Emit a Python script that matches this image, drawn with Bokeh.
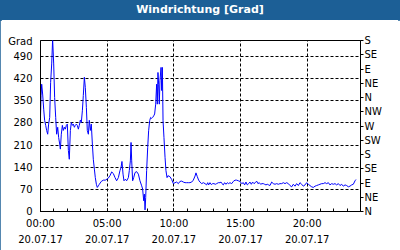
from bokeh.plotting import figure
from bokeh.models import FixedTicker, LinearAxis, Range1d, Div
from bokeh.layouts import column
from bokeh.embed import file_html
from bokeh.resources import INLINE

title_text = "Windrichtung [Grad]"
unit_label = "Grad"

hours = [0.00, 0.04, 0.09, 0.16, 0.24, 0.31, 0.39, 0.46, 0.54, 0.61, 0.69, 0.76, 0.84, 0.91, 0.99,
         1.06, 1.14, 1.21, 1.29, 1.36, 1.44, 1.49, 1.56, 1.64, 1.71, 1.79, 1.86, 1.94, 2.01, 2.09,
         2.16, 2.24, 2.31, 2.39, 2.46, 2.54, 2.61, 2.69, 2.76, 2.84, 2.91, 2.99, 3.06, 3.14, 3.21,
         3.29, 3.36, 3.44, 3.51, 3.59, 3.66, 3.74, 3.81, 3.89, 3.96, 4.04, 4.11, 4.19, 4.26, 4.34,
         4.41, 4.56, 4.71, 4.86, 5.01, 5.06, 5.21, 5.34, 5.46, 5.59, 5.71, 5.84, 5.96, 6.04, 6.11,
         6.19, 6.26, 6.36, 6.46, 6.59, 6.66, 6.74, 6.79, 6.84, 6.91, 6.99, 7.09, 7.21, 7.34, 7.46,
         7.59, 7.66, 7.74, 7.79, 7.84, 7.89, 7.96, 8.04, 8.11, 8.19, 8.26, 8.34, 8.41, 8.49, 8.56,
         8.64, 8.71, 8.76, 8.81, 8.86, 8.91, 8.96, 9.04, 9.09, 9.14, 9.19, 9.26, 9.34, 9.41, 9.49,
         9.56, 9.71, 9.84, 9.96, 10.09, 10.21, 10.34, 10.46, 10.59, 10.71, 10.84, 10.96, 11.09, 11.21,
         11.34, 11.46, 11.59, 11.66, 11.76, 11.86, 11.96, 12.09, 12.21, 12.34, 12.46, 12.54, 12.61,
         12.71, 12.81, 12.91, 13.01, 13.11, 13.21, 13.34, 13.46, 13.54, 13.61, 13.71, 13.81, 13.91,
         14.01, 14.11, 14.21, 14.34, 14.46, 14.59, 14.71, 14.84, 14.96, 15.09, 15.21, 15.31, 15.41,
         15.51, 15.61, 15.71, 15.81, 15.91, 16.01, 16.11, 16.21, 16.31, 16.41, 16.51, 16.61, 16.71,
         16.81, 16.91, 17.01, 17.11, 17.21, 17.34, 17.46, 17.59, 17.71, 17.84, 17.96, 18.09, 18.21,
         18.34, 18.46, 18.59, 18.71, 18.84, 18.96, 19.09, 19.21, 19.34, 19.46, 19.59, 19.71, 19.84,
         19.96, 20.09, 20.21, 20.34, 20.46, 20.59, 20.71, 20.84, 20.96, 21.09, 21.21, 21.34, 21.46,
         21.59, 21.71, 21.84, 21.96, 22.09, 22.21, 22.34, 22.46, 22.59, 22.71, 22.84, 22.96, 23.09,
         23.21, 23.34, 23.46, 23.59, 23.66]

direction = [300, 366, 402, 371, 323, 288, 272, 256, 244, 276, 297, 408, 466, 545, 466,
             360, 297, 244, 266, 234, 213, 197, 244, 272, 256, 266, 260, 272, 276, 193,
             165, 256, 281, 272, 276, 266, 272, 276, 272, 260, 272, 289, 281, 318, 366,
             424, 392, 329, 256, 244, 288, 256, 276, 213, 165, 134, 107, 86, 76, 81,
             86, 95, 99, 99, 103, 104, 113, 125, 120, 107, 97, 107, 129, 139, 158,
             118, 97, 102, 97, 107, 129, 160, 218, 160, 97, 107, 123, 126, 118, 97,
             81, 71, 34, 55, 5, 44, 129, 202, 255, 287, 297, 294, 297, 302, 308,
             339, 402, 339, 439, 402, 339, 413, 455, 382, 455, 287, 234, 171, 129, 107,
             113, 110, 101, 88, 91, 93, 88, 95, 96, 93, 91, 91, 91, 91,
             93, 99, 112, 122, 110, 99, 93, 88, 91, 88, 84, 91, 84,
             91, 85, 88, 88, 86, 88, 91, 91, 93, 88, 84, 91, 86,
             91, 88, 91, 88, 95, 99, 99, 97, 95, 88, 91, 84, 93,
             84, 88, 93, 86, 93, 88, 91, 96, 88, 91, 86, 88, 88,
             86, 84, 86, 84, 82, 93, 88, 86, 88, 86, 88, 88, 91,
             88, 91, 88, 82, 78, 86, 80, 88, 82, 91, 86, 80, 84,
             91, 86, 82, 78, 76, 80, 82, 84, 86, 88, 88, 91, 88,
             91, 84, 88, 86, 88, 84, 88, 82, 86, 80, 84, 82, 78,
             80, 84, 86, 97, 101]

left_ticks = [0, 70, 140, 210, 280, 350, 420, 490]
unit_tick = 537
right_ticks = [0, 45, 90, 135, 180, 225, 270, 315, 360, 405, 450, 495, 540]
right_labels = ["N", "NE", "E", "SE", "S", "SW", "W", "NW", "N", "NE", "E", "SE", "S"]
x_ticks = [0, 5, 10, 15, 20]
x_labels = ["00:00\n20.07.17", "05:00\n20.07.17", "10:00\n20.07.17",
            "15:00\n20.07.17", "20:00\n20.07.17"]

FONT = "DejaVu Sans"
BLUE = "#1c5f96"

p = figure(width=400, height=230, output_backend="svg", toolbar_location=None,
           x_range=Range1d(0, 24), y_range=Range1d(0, 540),
           min_border_left=40, min_border_right=40, min_border_top=20, min_border_bottom=39,
           margin=0)
p.border_fill_color = "white"
p.background_fill_color = "white"
p.outline_line_color = "black"
p.outline_line_alpha = 1

p.line(hours, direction, line_color="#0000ff", line_width=1)

def style_axis(ax):
    ax.axis_line_color = "black"
    ax.major_tick_line_color = "black"
    ax.minor_tick_line_color = "black"
    ax.major_label_text_font = FONT
    ax.major_label_text_font_size = "10px"
    ax.major_label_text_color = "black"

xa = p.xaxis[0]
xa.ticker = FixedTicker(ticks=x_ticks, minor_ticks=list(range(0, 25)))
xa.major_label_overrides = {t: l for t, l in zip(x_ticks, x_labels)}
style_axis(xa)
xa.major_tick_in = 3
xa.major_tick_out = 0
xa.minor_tick_in = 3
xa.minor_tick_out = 0
xa.major_label_standoff = 6
xa.major_label_text_line_height = 1.5

ya = p.yaxis[0]
ya.ticker = FixedTicker(ticks=left_ticks + [unit_tick], minor_ticks=[])
ya.major_label_overrides = {unit_tick: unit_label}
style_axis(ya)
ya.major_tick_in = 0
ya.major_tick_out = 0
ya.major_label_standoff = 8

ra = LinearAxis(ticker=FixedTicker(ticks=right_ticks, minor_ticks=[]))
ra.major_label_overrides = {t: l for t, l in zip(right_ticks, right_labels)}
style_axis(ra)
ra.major_tick_in = 0
ra.major_tick_out = 3
ra.major_label_standoff = 1
p.add_layout(ra, "right")

p.xgrid.ticker = FixedTicker(ticks=x_ticks)
p.ygrid.ticker = FixedTicker(ticks=left_ticks)
for g in (p.xgrid, p.ygrid):
    g.grid_line_color = "black"
    g.grid_line_dash = "3 2"
    g.grid_line_width = 1

header = Div(text=title_text, width=400, height=20, margin=0,
             styles={"background-color": BLUE, "color": "white", "font-weight": "bold",
                     "font-family": "DejaVu Sans", "font-size": "11px",
                     "text-align": "center", "line-height": "20px", "width": "400px"})

layout = column(header, p, spacing=0, margin=0,
                styles={"outline": "2px solid " + BLUE, "outline-offset": "-2px"})

open("out.html", "w").write(file_html(layout, INLINE))
